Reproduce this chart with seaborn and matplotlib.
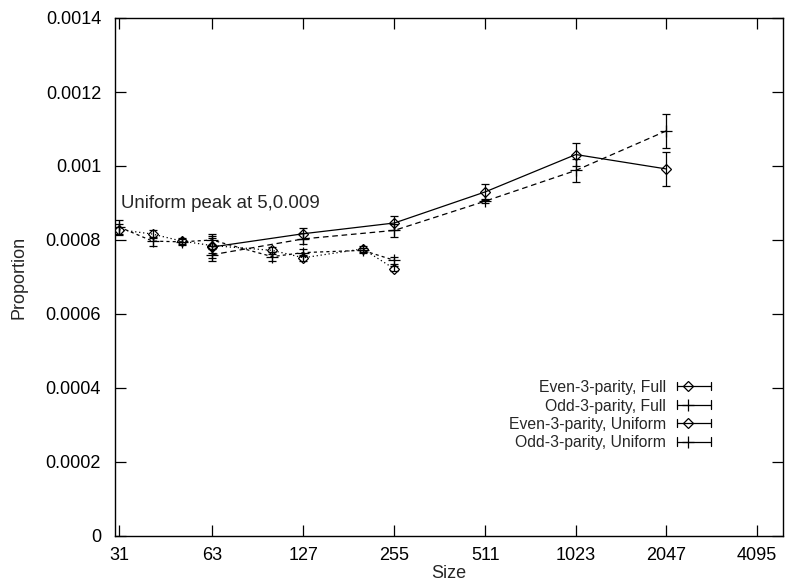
import matplotlib
matplotlib.use("Agg")
import matplotlib.pyplot as plt
from matplotlib.ticker import NullLocator, FixedLocator, FixedFormatter
import seaborn as sns
import pandas as pd

# ---- data ----
full_sizes = [63, 127, 255, 511, 1023, 2047]
even_full = [0.000781, 0.000817, 0.000846, 0.000930, 0.001031, 0.000992]
even_full_err = [0.000030, 0.000015, 0.000020, 0.000022, 0.000030, 0.000045]
odd_full = [0.000760, 0.000803, 0.000826, 0.000905, 0.000988, 0.001095]
odd_full_err = [0.000016, 0.000015, 0.000018, 0.000006, 0.000030, 0.000046]

uniform_sizes = [31, 40, 50, 63, 100, 127, 200, 255]
even_uni = [0.000828, 0.000816, 0.000797, 0.000785, 0.000772, 0.000752, 0.000776, 0.000722]
even_uni_err = [0.000015, 0.000010, 0.000008, 0.000020, 0.000010, 0.000008, 0.000008, 0.000007]
odd_uni = [0.000835, 0.000797, 0.000795, 0.000800, 0.000755, 0.000766, 0.000772, 0.000745]
odd_uni_err = [0.000018, 0.000012, 0.000008, 0.000015, 0.000012, 0.000010, 0.000006, 0.000010]

series_names = ["Even-3-parity, Full", "Odd-3-parity, Full",
                "Even-3-parity, Uniform", "Odd-3-parity, Uniform"]

x_ticks = [31, 63, 127, 255, 511, 1023, 2047, 4095]
x_tick_labels = ["31", "63", "127", "255", "511", "1023", "2047", "4095"]
y_ticks = [0, 0.0002, 0.0004, 0.0006, 0.0008, 0.001, 0.0012, 0.0014]
y_tick_labels = ["0", "0.0002", "0.0004", "0.0006", "0.0008", "0.001", "0.0012", "0.0014"]

annotation = "Uniform peak at 5,0.009"

# ---- style ----
sns.set_style("ticks")
plt.rcParams["font.family"] = ["Liberation Sans", "DejaVu Sans"]
FS = 13
FS_KEY = 11.3
FS_ANN = 13.4

fig = plt.figure(figsize=(7.87, 5.84), dpi=100)
ax = fig.add_axes([115 / 787, 1 - 536 / 584, (783 - 115) / 787, (536 - 18) / 584])

frames = []
for name, xs, ys, es in [
    (series_names[0], full_sizes, even_full, even_full_err),
    (series_names[1], full_sizes, odd_full, odd_full_err),
    (series_names[2], uniform_sizes, even_uni, even_uni_err),
    (series_names[3], uniform_sizes, odd_uni, odd_uni_err),
]:
    frames.append(pd.DataFrame({"series": name, "size": xs, "prop": ys, "err": es}))
df = pd.concat(frames, ignore_index=True)

styles = {
    series_names[0]: dict(dashes=None, marker="D", ms=5),
    series_names[1]: dict(dashes=(4.5, 3), marker="+", ms=8),
    series_names[2]: dict(dashes=(1, 2.2), marker="D", ms=5),
    series_names[3]: dict(dashes=(2.5, 2.5), marker="+", ms=8),
}
LW = 0.9

for name in series_names:
    sub = df[df["series"] == name]
    st = styles[name]
    kw = dict(color="black", linewidth=LW, marker=st["marker"], markersize=st["ms"],
              markerfacecolor="none", markeredgecolor="black", markeredgewidth=0.9)
    sns.lineplot(data=sub, x="size", y="prop", ax=ax, estimator=None,
                 sort=False, legend=False, **kw)
    ln = ax.get_lines()[-1]
    if st["dashes"] is not None:
        ln.set_dashes(st["dashes"])
    ax.errorbar(sub["size"], sub["prop"], yerr=sub["err"], fmt="none",
                ecolor="black", elinewidth=LW, capsize=3, capthick=LW)

ax.set_xscale("log")
ax.set_xlim(30, 5000)
ax.set_ylim(0, 0.0014)
ax.xaxis.set_major_locator(FixedLocator(x_ticks))
ax.xaxis.set_major_formatter(FixedFormatter(x_tick_labels))
ax.xaxis.set_minor_locator(NullLocator())
ax.yaxis.set_major_locator(FixedLocator(y_ticks))
ax.yaxis.set_major_formatter(FixedFormatter(y_tick_labels))
ax.yaxis.set_minor_locator(NullLocator())

ax.tick_params(axis="both", which="major", direction="in", length=8, width=0.9,
               top=True, right=True, labelsize=FS, colors="black")
ax.tick_params(axis="x", pad=8)
ax.tick_params(axis="y", pad=10)
for s in ax.spines.values():
    s.set_visible(True)
    s.set_linewidth(1.0)
    s.set_color("black")

ax.set_xlabel("Size", fontsize=FS, labelpad=1)
ax.set_ylabel("Proportion", fontsize=FS, labelpad=13)

ax.text(31.3, 0.000886, annotation, fontsize=FS_ANN, ha="left", va="baseline")

# gnuplot-style key
def axx(px):
    return (px - 115) / 668

def axy(py):
    return (536 - py) / 518

rows = [386, 404.5, 423, 441.5]
for i, name in enumerate(series_names):
    st = styles[name]
    y = axy(rows[i])
    ax.text(axx(666), y, name, transform=ax.transAxes, fontsize=FS_KEY,
            ha="right", va="center_baseline")
    ax.plot([axx(677), axx(711)], [y, y], transform=ax.transAxes, color="black", lw=LW)
    for cx in (677, 711):
        ax.plot([axx(cx), axx(cx)], [y - 0.008, y + 0.008], transform=ax.transAxes,
                color="black", lw=LW)
    ax.plot([axx(688)], [y], transform=ax.transAxes, marker=st["marker"], ms=st["ms"],
            markerfacecolor="none", markeredgecolor="black", markeredgewidth=0.9,
            color="black")

fig.savefig("out.png", dpi=100)
